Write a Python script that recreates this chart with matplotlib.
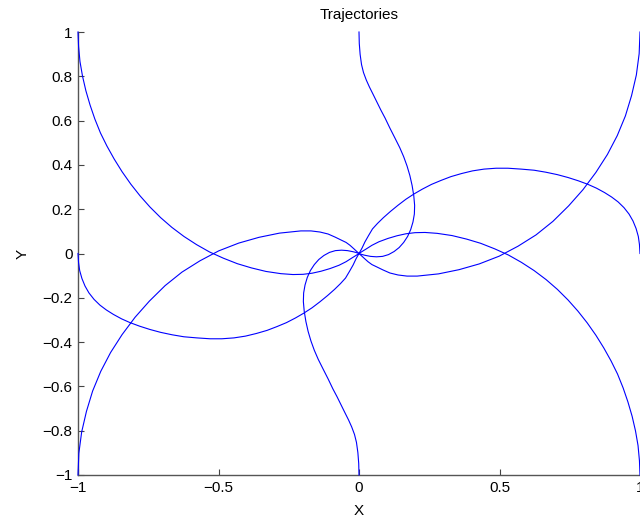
import matplotlib
matplotlib.use('Agg')
import matplotlib.pyplot as plt

plt.rcParams['font.family'] = ['Liberation Sans', 'DejaVu Sans']

# trajectories, each one ends at the origin
# start (-1, 1)
xa = [-1.000, -0.998, -0.993, -0.984, -0.972, -0.957, -0.940, -0.920, -0.897, -0.871, -0.843,
      -0.812, -0.779, -0.744, -0.706, -0.666, -0.623, -0.578, -0.532, -0.483, -0.433, -0.383,
      -0.331, -0.278, -0.235, -0.199, -0.167, -0.135, -0.103, -0.071, -0.046, -0.025, -0.011, 0.0]
ya = [1.000, 0.935, 0.867, 0.801, 0.735, 0.670, 0.607, 0.544, 0.485, 0.426, 0.369,
      0.313, 0.260, 0.210, 0.162, 0.118, 0.077, 0.040, 0.007, -0.021, -0.046, -0.065,
      -0.081, -0.091, -0.095, -0.094, -0.089, -0.080, -0.068, -0.053, -0.037, -0.020, -0.009, 0.0]

# start (1, -1)
xb = [1.000, 0.998, 0.993, 0.984, 0.972, 0.957, 0.940, 0.920, 0.897, 0.871, 0.843,
      0.812, 0.779, 0.744, 0.706, 0.666, 0.623, 0.578, 0.532, 0.483, 0.433, 0.383,
      0.331, 0.278, 0.235, 0.199, 0.167, 0.135, 0.103, 0.071, 0.046, 0.025, 0.011, 0.0]
yb = [-1.000, -0.935, -0.867, -0.801, -0.735, -0.670, -0.607, -0.544, -0.485, -0.426, -0.369,
      -0.313, -0.260, -0.210, -0.162, -0.118, -0.077, -0.040, -0.007, 0.021, 0.046, 0.065,
      0.081, 0.091, 0.095, 0.094, 0.089, 0.080, 0.068, 0.053, 0.037, 0.020, 0.009, 0.0]

# start (-1, -1)
xd = [-1.000, -0.997, -0.987, -0.970, -0.948, -0.919, -0.884, -0.843, -0.797, -0.746, -0.690,
      -0.630, -0.566, -0.499, -0.428, -0.356, -0.283, -0.207, -0.171, -0.139, -0.110, -0.085,
      -0.064, -0.046, -0.032, -0.018, -0.007, 0.0]
yd = [-1.000, -0.902, -0.806, -0.713, -0.621, -0.532, -0.447, -0.366, -0.288, -0.215, -0.145,
      -0.084, -0.033, 0.012, 0.047, 0.073, 0.092, 0.102, 0.102, 0.097, 0.088, 0.074,
      0.061, 0.050, 0.037, 0.021, 0.008, 0.0]

# start (1, 1)
xc = [1.000, 0.997, 0.987, 0.970, 0.948, 0.919, 0.884, 0.843, 0.797, 0.746, 0.690,
      0.630, 0.566, 0.499, 0.428, 0.356, 0.283, 0.207, 0.171, 0.139, 0.110, 0.085,
      0.064, 0.046, 0.032, 0.018, 0.007, 0.0]
yc = [1.000, 0.902, 0.806, 0.713, 0.621, 0.532, 0.447, 0.366, 0.288, 0.215, 0.145,
      0.084, 0.033, -0.012, -0.047, -0.073, -0.092, -0.102, -0.102, -0.097, -0.088, -0.074,
      -0.061, -0.050, -0.037, -0.021, -0.008, 0.0]

# start (-1, 0)
xe = [-1.000, -0.998, -0.994, -0.986, -0.975, -0.961, -0.943, -0.922, -0.899, -0.874, -0.845,
      -0.815, -0.781, -0.744, -0.706, -0.665, -0.623, -0.577, -0.530, -0.488, -0.445, -0.404,
      -0.365, -0.327, -0.292, -0.258, -0.226, -0.196, -0.167, -0.139, -0.112, -0.087, -0.066,
      -0.048, -0.034, -0.021, -0.011, -0.004, 0.0]
ye = [0.000, -0.041, -0.077, -0.113, -0.147, -0.178, -0.207, -0.233, -0.255, -0.275, -0.295,
      -0.312, -0.328, -0.343, -0.356, -0.367, -0.376, -0.381, -0.385, -0.385, -0.381, -0.373,
      -0.361, -0.347, -0.330, -0.312, -0.291, -0.269, -0.245, -0.218, -0.190, -0.162, -0.136,
      -0.111, -0.081, -0.052, -0.025, -0.009, 0.0]

# start (1, 0)
xf = [1.000, 0.998, 0.994, 0.986, 0.975, 0.961, 0.943, 0.922, 0.899, 0.874, 0.845,
      0.815, 0.781, 0.744, 0.706, 0.665, 0.623, 0.577, 0.530, 0.488, 0.445, 0.404,
      0.365, 0.327, 0.292, 0.258, 0.226, 0.196, 0.167, 0.139, 0.112, 0.087, 0.066,
      0.048, 0.034, 0.021, 0.011, 0.004, 0.0]
yf = [0.000, 0.041, 0.077, 0.113, 0.147, 0.178, 0.207, 0.233, 0.255, 0.275, 0.295,
      0.312, 0.328, 0.343, 0.356, 0.367, 0.376, 0.381, 0.385, 0.385, 0.381, 0.373,
      0.361, 0.347, 0.330, 0.312, 0.291, 0.269, 0.245, 0.218, 0.190, 0.162, 0.136,
      0.111, 0.081, 0.052, 0.025, 0.009, 0.0]

# start (0, 1)
xg = [0.000, 0.001, 0.004, 0.009, 0.016, 0.026, 0.037, 0.050, 0.064, 0.078, 0.093, 0.110,
      0.128, 0.145, 0.159, 0.171, 0.181, 0.189, 0.195, 0.198, 0.197, 0.192, 0.184, 0.173,
      0.159, 0.143, 0.125, 0.105, 0.084, 0.062, 0.041, 0.021, 0.009, 0.0]
yg = [1.000, 0.948, 0.899, 0.853, 0.817, 0.783, 0.752, 0.719, 0.683, 0.647, 0.611, 0.566,
      0.521, 0.478, 0.437, 0.395, 0.352, 0.307, 0.260, 0.217, 0.178, 0.142, 0.108, 0.077,
      0.050, 0.027, 0.009, -0.005, -0.013, -0.015, -0.013, -0.008, -0.004, 0.0]

# start (0, -1)
xh = [0.000, -0.001, -0.004, -0.009, -0.016, -0.026, -0.037, -0.050, -0.064, -0.078, -0.093,
      -0.110, -0.128, -0.145, -0.159, -0.171, -0.181, -0.189, -0.195, -0.198, -0.197, -0.192,
      -0.184, -0.173, -0.159, -0.143, -0.125, -0.105, -0.084, -0.062, -0.041, -0.021, -0.009, 0.0]
yh = [-1.000, -0.948, -0.899, -0.853, -0.817, -0.783, -0.752, -0.719, -0.683, -0.647, -0.611,
      -0.566, -0.521, -0.478, -0.437, -0.395, -0.352, -0.307, -0.260, -0.217, -0.178, -0.142,
      -0.108, -0.077, -0.050, -0.027, -0.009, 0.005, 0.013, 0.015, 0.013, 0.008, 0.004, 0.0]

xticks = [-1, -0.5, 0, 0.5, 1]
xticklabels = ['\u22121', '\u22120.5', '0', '0.5', '1']
yticks = [-1, -0.8, -0.6, -0.4, -0.2, 0, 0.2, 0.4, 0.6, 0.8, 1]
yticklabels = ['\u22121', '\u22120.8', '\u22120.6', '\u22120.4', '\u22120.2', '0',
               '0.2', '0.4', '0.6', '0.8', '1']

fig = plt.figure(figsize=(6.4, 5.21), dpi=100)
ax = fig.add_axes([78 / 640, 46 / 521, 562 / 640, 443 / 521])

for x, y in [(xa, ya), (xb, yb), (xc, yc), (xd, yd), (xe, ye), (xf, yf), (xg, yg), (xh, yh)]:
    ax.plot(x, y, color='#0000ff', lw=0.8, zorder=3, clip_on=False)

ax.set_xlim(-1, 1)
ax.set_ylim(-1, 1)
ax.set_xticks(xticks)
ax.set_xticklabels(xticklabels)
ax.set_yticks(yticks)
ax.set_yticklabels(yticklabels)
ax.tick_params(direction='in', length=4, width=0.8, color='#444444', labelsize=11, pad=4)

ax.spines['top'].set_visible(False)
ax.spines['right'].set_visible(False)
for s in ['left', 'bottom']:
    ax.spines[s].set_color('#555555')
    ax.spines[s].set_linewidth(1.0)

ax.set_title('Trajectories', fontsize=11, pad=9)
ax.set_xlabel('X', fontsize=11, labelpad=7)
ax.set_ylabel('Y', fontsize=11, labelpad=9)

fig.savefig('out.png', dpi=100)
